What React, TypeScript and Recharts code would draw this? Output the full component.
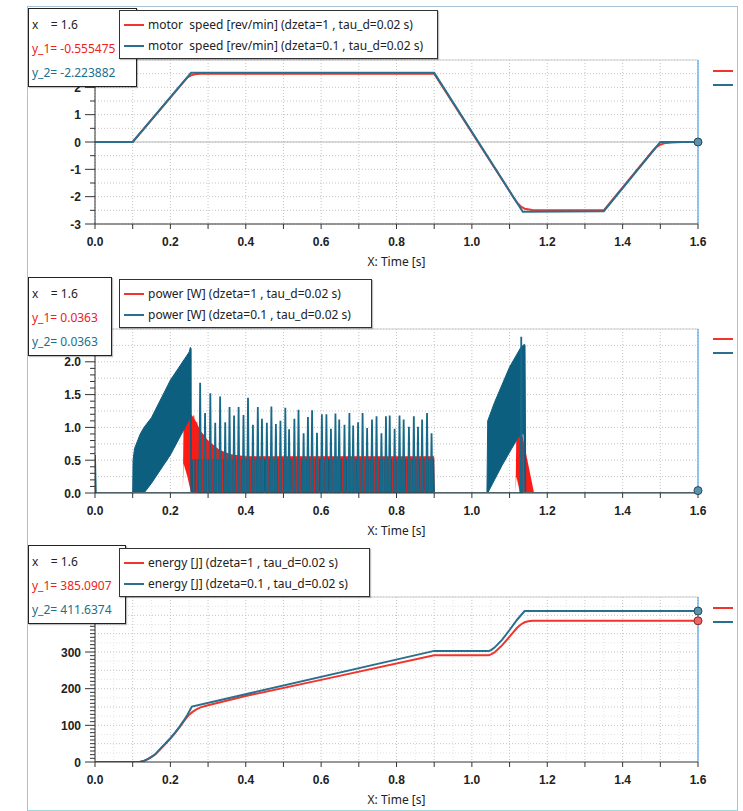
import React from 'react';
import { ComposedChart, Line, Area, XAxis, YAxis, CartesianGrid, ReferenceLine, ReferenceDot } from 'recharts';

// ---- shared axis values ----
const xTicks = [0, 0.1, 0.2, 0.3, 0.4, 0.5, 0.6, 0.7, 0.8, 0.9, 1.0, 1.1, 1.2, 1.3, 1.4, 1.5, 1.6];
const xFine = [0.05, 0.15, 0.25, 0.35, 0.45, 0.55, 0.65, 0.75, 0.85, 0.95, 1.05, 1.15, 1.25, 1.35, 1.45, 1.55];

// ---- motor speed ----
const speedYTicks = [-3, -2.5, -2, -1.5, -1, -0.5, 0, 0.5, 1, 1.5, 2, 2.5, 3];
const speedYMajor = [-3, -2, -1, 0, 1, 2, 3];
const speedYLabels = [-3, -2, -1, 0, 1, 2]; // "3" sits under the info box
const speedRedT = [0, 0.1, 0.235, 0.245, 0.255, 0.265, 0.28, 0.9, 1.11, 1.12, 1.13, 1.14, 1.16, 1.18, 1.35, 1.48, 1.49, 1.5, 1.51, 1.53, 1.56, 1.6];
const speedRed = [0, 0, 2.2, 2.36, 2.44, 2.48, 2.5, 2.5, -2.02, -2.22, -2.36, -2.44, -2.49, -2.5, -2.5, -0.32, -0.18, -0.1, -0.05, -0.02, 0, 0];
const speedBlueT = [0, 0.1, 0.255, 0.9, 1.135, 1.35, 1.5, 1.6];
const speedBlue = [0, 0, 2.53, 2.53, -2.55, -2.53, 0, 0];

// ---- power ----
const powerYTicks = [0, 0.1, 0.2, 0.3, 0.4, 0.5, 0.6, 0.7, 0.8, 0.9, 1.0, 1.1, 1.2, 1.3, 1.4, 1.5, 1.6, 1.7, 1.8, 1.9, 2.0, 2.1, 2.2, 2.3, 2.4, 2.5];
const powerYMajor = [0, 0.5, 1.0, 1.5, 2.0, 2.5];
const powerYLabels = [0, 0.5, 1.0, 1.5, 2.0];
const powerGridY = [0.25, 0.5, 0.75, 1.0, 1.25, 1.5, 1.75, 2.0, 2.25, 2.5];
// red envelope (dzeta=1)
const redPowT = [0.233, 0.235, 0.245, 0.255, 0.265, 0.28, 0.3, 0.33, 0.36, 0.4, 0.9, 0.901, 1.116, 1.118, 1.128, 1.135, 1.165, 1.166];
const redPowLo = [0, 0.45, 0.25, 0, 0, 0, 0, 0, 0, 0, 0, 0, 0, 0.25, 0, 0, 0, 0];
const redPowHi = [0, 1.1, 1.18, 1.2, 1.12, 0.95, 0.8, 0.66, 0.59, 0.56, 0.56, 0, 0, 0.94, 0.94, 0.85, 0, 0];
// red stripes visible through the blue band
const redStripeT = [0.262, 0.27, 0.286, 0.299, 0.313, 0.325, 0.338, 0.35, 0.363, 0.375, 0.387, 0.4, 0.412, 0.425, 0.437, 0.447, 0.461, 0.474, 0.487, 0.498, 0.51, 0.523, 0.534, 0.546, 0.558, 0.571, 0.582, 0.593, 0.607, 0.617, 0.632, 0.644, 0.657, 0.67, 0.68, 0.69, 0.703, 0.716, 0.728, 0.741, 0.753, 0.766, 0.778, 0.79, 0.802, 0.815, 0.827, 0.839, 0.852, 0.864, 0.876, 0.888];
const redStripeV = [1.18, 1.08, 0.9, 0.8, 0.72, 0.66, 0.62, 0.6, 0.58, 0.57, 0.55, 0.55, 0.55, 0.55, 0.55, 0.55, 0.55, 0.55, 0.55, 0.55, 0.55, 0.55, 0.55, 0.55, 0.55, 0.55, 0.55, 0.55, 0.55, 0.55, 0.55, 0.55, 0.55, 0.55, 0.55, 0.55, 0.55, 0.55, 0.55, 0.55, 0.55, 0.55, 0.55, 0.55, 0.55, 0.55, 0.55, 0.55, 0.55, 0.55, 0.55, 0.55];
// blue dense band (dzeta=0.1), acceleration phase
const blueAccT = [0.1, 0.101, 0.105, 0.12, 0.13, 0.15, 0.2, 0.25, 0.253, 0.255, 0.2555];
const blueAccLo = [0, 0, 0, 0, 0, 0.15, 0.58, 1.12, 1.15, 0, 0];
const blueAccHi = [0, 0.5, 0.68, 0.9, 1.0, 1.15, 1.72, 2.15, 2.22, 2.2, 0];
// blue band during constant speed
const blueBandT = [0.256, 0.258, 0.9, 0.902];
const blueBandHi = [0, 0.52, 0.52, 0];
// blue dense band, braking phase
const blueBrkT = [1.04, 1.042, 1.06, 1.08, 1.1, 1.12, 1.13, 1.138, 1.141, 1.143];
const blueBrkLo = [0, 0, 0.2, 0.42, 0.62, 0.82, 0.9, 0.9, 0, 0];
const blueBrkHi = [0, 1.1, 1.38, 1.65, 1.92, 2.12, 2.22, 2.26, 2.26, 0];
// blue spikes
const blueSpikeT = [0.0, 0.279, 0.292, 0.306, 0.319, 0.332, 0.3455, 0.357, 0.369, 0.381, 0.394, 0.406, 0.419, 0.432, 0.443, 0.456, 0.468, 0.48, 0.492, 0.505, 0.515, 0.529, 0.54, 0.5535, 0.565, 0.576, 0.589, 0.602, 0.614, 0.626, 0.638, 0.648, 0.662, 0.675, 0.685, 0.698, 0.71, 0.722, 0.735, 0.747, 0.76, 0.772, 0.782, 0.795, 0.808, 0.819, 0.833, 0.846, 0.857, 0.868, 0.881, 0.893, 1.131];
const blueSpikeV = [0.58, 1.68, 1.22, 1.52, 1.07, 1.47, 1.08, 1.31, 1.18, 1.31, 1.19, 1.45, 1.04, 1.31, 1.13, 1.07, 1.32, 1.05, 1.10, 1.30, 0.97, 1.13, 1.27, 0.91, 1.16, 1.26, 0.92, 1.20, 1.20, 0.98, 1.21, 1.12, 1.04, 1.22, 1.03, 1.08, 1.22, 0.99, 1.12, 1.17, 0.91, 1.17, 1.18, 0.98, 1.18, 1.12, 1.01, 1.17, 1.01, 1.12, 1.22, 0.91, 2.38];
const powerEnd = 0.0363;

// ---- energy ----
const energyYTicks = [0, 10, 20, 30, 40, 50, 60, 70, 80, 90, 100, 110, 120, 130, 140, 150, 160, 170, 180, 190, 200, 210, 220, 230, 240, 250, 260, 270, 280, 290, 300, 310, 320, 330, 340, 350, 360, 370, 380, 390, 400, 410, 420, 430, 440, 450];
const energyYMajor = [0, 100, 200, 300, 400];
const energyYLabels = [0, 100, 200, 300];
const energyGridY = [50, 100, 150, 200, 250, 300, 350, 400, 450];
const energyFineY = [25, 75, 125, 175, 225, 275, 325, 375, 425];
const energyRedT = [0, 0.11, 0.12, 0.13, 0.14, 0.15, 0.16, 0.175, 0.19, 0.2, 0.21, 0.225, 0.235, 0.243, 0.25, 0.258, 0.268, 0.28, 0.3, 0.4, 0.6, 0.9, 1.045, 1.052, 1.06, 1.08, 1.1, 1.12, 1.13, 1.14, 1.15, 1.16, 1.6];
const energyRed = [0, 0, 1, 3, 8, 14, 21, 37, 53, 64, 76, 96, 110, 121, 129, 136, 143, 149, 155, 180, 224, 291, 291, 294, 299, 318, 342, 366, 375, 381, 384, 385, 385.09];
const energyBlueT = [0, 0.11, 0.12, 0.13, 0.14, 0.15, 0.16, 0.175, 0.19, 0.2, 0.21, 0.225, 0.235, 0.245, 0.257, 0.9, 1.045, 1.052, 1.06, 1.08, 1.1, 1.12, 1.14, 1.6];
const energyBlue = [0, 0, 1, 3, 8, 14, 21, 38, 54, 65, 77, 97, 112, 128, 151, 303, 303, 306, 312, 333, 360, 388, 411.6, 411.64];

const RED = '#f0352d';
const TEAL = '#2b6f8e';
const RED_FILL = '#ff1a14';
const TEAL_FILL = '#0d5f80';
const AXIS = '#333';
const TICK_FONT = '"Liberation Sans", Arial, sans-serif';
const UI_FONT = '"Noto Sans", "Open Sans", sans-serif';
const PLOT_LEFT = 95;

const toPts = (ts: number[], vs: number[]) => ts.map((t, i) => ({ t, v: vs[i] }));
const toRange = (ts: number[], lo: number[], hi: number[]) => ts.map((t, i) => ({ t, r: [lo[i], hi[i]] }));
const toSpikes = (ts: number[], vs: number[], base: number, w: number) =>
  ts.flatMap((t, i) => [
    { t: t - w, v: base },
    { t, v: vs[i] },
    { t: t + w, v: base },
    { t: t + w + 0.0001, v: null },
  ]);

const near = (list: number[], v: number) => list.some((m) => Math.abs(m - v) < 1e-9);

const makeYTick = (major: number[], labels: number[], fmt: (v: number) => string) => (props: any) => {
  const { y, payload } = props;
  const v = payload.value;
  const isMajor = near(major, v);
  return (
    <g>
      <line x1={PLOT_LEFT - (isMajor ? 10 : 5)} x2={PLOT_LEFT} y1={y} y2={y} stroke={AXIS} strokeWidth={1} />
      {near(labels, v) && (
        <text x={PLOT_LEFT - 14} y={y} dy={4.5} textAnchor="end" fontFamily={TICK_FONT} fontWeight="bold" fontSize={12} fill="#222">
          {fmt(v)}
        </text>
      )}
    </g>
  );
};

const xFmt = (v: number) => (Math.round(v * 10) % 2 === 0 ? v.toFixed(1) : '');

interface PanelProps {
  top: number;
  plotH: number;
  yDomain: [number, number];
  yTicks: number[];
  yMajor: number[];
  yLabels: number[];
  yFmt: (v: number) => string;
  gridY: number[];
  fineY?: number[];
  children: React.ReactNode;
}

function Panel({ top, plotH, yDomain, yTicks, yMajor, yLabels, yFmt, gridY, fineY, children }: PanelProps) {
  return (
    <div style={{ position: 'absolute', left: 0, top: top - 10 }}>
      <ComposedChart width={743} height={plotH + 55} margin={{ top: 10, right: 45, bottom: 0, left: 50 }}>
        {fineY && (
          <CartesianGrid horizontalValues={fineY} verticalValues={xFine} stroke="#e4e4e4" strokeDasharray="1 2" />
        )}
        <CartesianGrid horizontalValues={gridY} verticalValues={xTicks} stroke="#c4c4c4" strokeDasharray="1 2" />
        <XAxis
          type="number"
          dataKey="t"
          domain={[0, 1.6]}
          ticks={xTicks}
          interval={0}
          allowDataOverflow
          tickFormatter={xFmt}
          tickSize={5}
          tickMargin={8}
          stroke={AXIS}
          tick={{ fontFamily: TICK_FONT, fontWeight: 'bold', fontSize: 12, fill: '#222' }}
          height={45}
          label={{ value: 'X: Time [s]', position: 'insideBottom', offset: 3, style: { fontFamily: UI_FONT, fontSize: 12, fill: '#222' } }}
        />
        <YAxis
          type="number"
          domain={yDomain}
          ticks={yTicks}
          interval={0}
          allowDataOverflow
          width={45}
          tickLine={false}
          tickSize={10}
          tickMargin={4}
          stroke={AXIS}
          tick={makeYTick(yMajor, yLabels, yFmt)}
        />
        <ReferenceLine y={yDomain[1]} stroke="#cfcfcf" />
        {children}
        <ReferenceLine x={1.6} stroke="#2f8fe6" strokeWidth={1} />
      </ComposedChart>
    </div>
  );
}

function InfoBox({ left, top, width, rows }: { left: number; top: number; width: number; rows: [string, string][] }) {
  return (
    <div style={{ position: 'absolute', left, top, width, height: 79, boxSizing: 'border-box', border: '1px solid #222', background: '#fff', boxShadow: '1px 1px 1px rgba(0,0,0,0.25)', overflow: 'hidden' }}>
      {rows.map(([txt, col], i) => (
        <div key={i} style={{ position: 'absolute', left: 3, top: 8 + i * 24, whiteSpace: 'pre', fontFamily: UI_FONT, fontSize: 12, lineHeight: '16px', color: col }}>
          {txt}
        </div>
      ))}
    </div>
  );
}

function LegendBox({ left, top, width, labels }: { left: number; top: number; width: number; labels: string[] }) {
  const cols = [RED, TEAL];
  return (
    <div style={{ position: 'absolute', left, top, width, height: 49, boxSizing: 'border-box', border: '1px solid #333', background: '#fff', boxShadow: '1px 1px 1px rgba(0,0,0,0.25)' }}>
      {labels.map((txt, i) => (
        <div key={i} style={{ position: 'absolute', left: 4, top: 6 + i * 21, height: 16, display: 'flex', alignItems: 'center' }}>
          <div style={{ width: 20, height: 2, background: cols[i], marginRight: 4 }} />
          <span style={{ whiteSpace: 'pre', fontFamily: UI_FONT, fontSize: 12, lineHeight: '16px', color: '#222' }}>{txt}</span>
        </div>
      ))}
    </div>
  );
}

function SideMarks({ top }: { top: number }) {
  return (
    <>
      <div style={{ position: 'absolute', left: 713, top, width: 20, height: 2, background: RED }} />
      <div style={{ position: 'absolute', left: 713, top: top + 14, width: 20, height: 2, background: TEAL }} />
    </>
  );
}

export default function App() {
  return (
    <div style={{ position: 'absolute', left: 0, top: 0, width: 743, height: 811, background: '#fff', overflow: 'hidden' }}>
      <div style={{ position: 'absolute', left: 27, top: 6, width: 711, height: 805, boxSizing: 'border-box', border: '1px solid #a9c3d6', borderBottomColor: '#9fd8de' }} />

      {/* motor speed */}
      <Panel top={60} plotH={164} yDomain={[-3, 3]} yTicks={speedYTicks} yMajor={speedYMajor} yLabels={speedYLabels} yFmt={(v) => String(v)} gridY={speedYTicks}>
        <ReferenceLine y={0} stroke="#b8b8b8" />
        <Line data={toPts(speedRedT, speedRed)} dataKey="v" type="linear" stroke={RED} strokeWidth={2} dot={false} isAnimationActive={false} />
        <Line data={toPts(speedBlueT, speedBlue)} dataKey="v" type="linear" stroke={TEAL} strokeWidth={2} dot={false} isAnimationActive={false} />
        <ReferenceDot x={1.6} y={speedBlue[speedBlue.length - 1]} r={4} fill="#5a93ab" stroke="#27485a" />
      </Panel>

      {/* power */}
      <Panel top={329} plotH={164} yDomain={[0, 2.5]} yTicks={powerYTicks} yMajor={powerYMajor} yLabels={powerYLabels} yFmt={(v) => v.toFixed(1)} gridY={powerGridY}>
        <Line data={toPts([0, 1.6], [0, 0])} dataKey="v" type="linear" stroke="#6d8fa0" strokeWidth={2} dot={false} isAnimationActive={false} />
        <Area data={toRange(redPowT, redPowLo, redPowHi)} dataKey="r" type="linear" fill={RED_FILL} fillOpacity={1} stroke="none" isAnimationActive={false} />
        <Area data={toRange(blueAccT, blueAccLo, blueAccHi)} dataKey="r" type="linear" fill={TEAL_FILL} fillOpacity={1} stroke={TEAL_FILL} strokeWidth={1} isAnimationActive={false} />
        <Area data={toRange(blueBandT, [0, 0, 0, 0], blueBandHi)} dataKey="r" type="linear" fill={TEAL_FILL} fillOpacity={1} stroke="none" isAnimationActive={false} />
        <Area data={toRange(blueBrkT, blueBrkLo, blueBrkHi)} dataKey="r" type="linear" fill={TEAL_FILL} fillOpacity={1} stroke={TEAL_FILL} strokeWidth={1} isAnimationActive={false} />
        <Line data={toSpikes(redStripeT, redStripeV, 0, 0.0003)} dataKey="v" type="linear" stroke="#e8241c" strokeWidth={0.7} dot={false} isAnimationActive={false} />
        <Line data={toSpikes(blueSpikeT, blueSpikeV, 0, 0.0022)} dataKey="v" type="linear" stroke="#17698a" strokeWidth={1.8} dot={false} isAnimationActive={false} />
        <ReferenceDot x={1.6} y={powerEnd} r={4} fill="#5a93ab" stroke="#27485a" />
      </Panel>

      {/* energy */}
      <Panel top={597} plotH={165} yDomain={[0, 450]} yTicks={energyYTicks} yMajor={energyYMajor} yLabels={energyYLabels} yFmt={(v) => String(v)} gridY={energyGridY} fineY={energyFineY}>
        <Line data={toPts(energyRedT, energyRed)} dataKey="v" type="linear" stroke={RED} strokeWidth={2} dot={false} isAnimationActive={false} />
        <Line data={toPts(energyBlueT, energyBlue)} dataKey="v" type="linear" stroke={TEAL} strokeWidth={2} dot={false} isAnimationActive={false} />
        <ReferenceDot x={1.6} y={energyBlue[energyBlue.length - 1]} r={4} fill="#5a93ab" stroke="#27485a" />
        <ReferenceDot x={1.6} y={energyRed[energyRed.length - 1]} r={4} fill="#f06560" stroke="#7a2a2a" />
      </Panel>

      <InfoBox left={28} top={8} width={109} rows={[['x    = 1.6', '#222'], ['y_1= -0.555475', '#f0201a'], ['y_2= -2.223882', '#1b6f8e']]} />
      <LegendBox left={119} top={10} width={319} labels={['motor  speed [rev/min] (dzeta=1 , tau_d=0.02 s)', 'motor  speed [rev/min] (dzeta=0.1 , tau_d=0.02 s)']} />
      <SideMarks top={70} />

      <InfoBox left={28} top={277} width={84} rows={[['x    = 1.6', '#222'], ['y_1= 0.0363', '#f0201a'], ['y_2= 0.0363', '#1b6f8e']]} />
      <LegendBox left={119} top={279} width={253} labels={['power [W] (dzeta=1 , tau_d=0.02 s)', 'power [W] (dzeta=0.1 , tau_d=0.02 s)']} />
      <SideMarks top={338} />

      <InfoBox left={28} top={545} width={98} rows={[['x    = 1.6', '#222'], ['y_1= 385.0907', '#f0201a'], ['y_2= 411.6374', '#1b6f8e']]} />
      <LegendBox left={119} top={548} width={251} labels={['energy [J] (dzeta=1 , tau_d=0.02 s)', 'energy [J] (dzeta=0.1 , tau_d=0.02 s)']} />
      <SideMarks top={607} />
    </div>
  );
}
